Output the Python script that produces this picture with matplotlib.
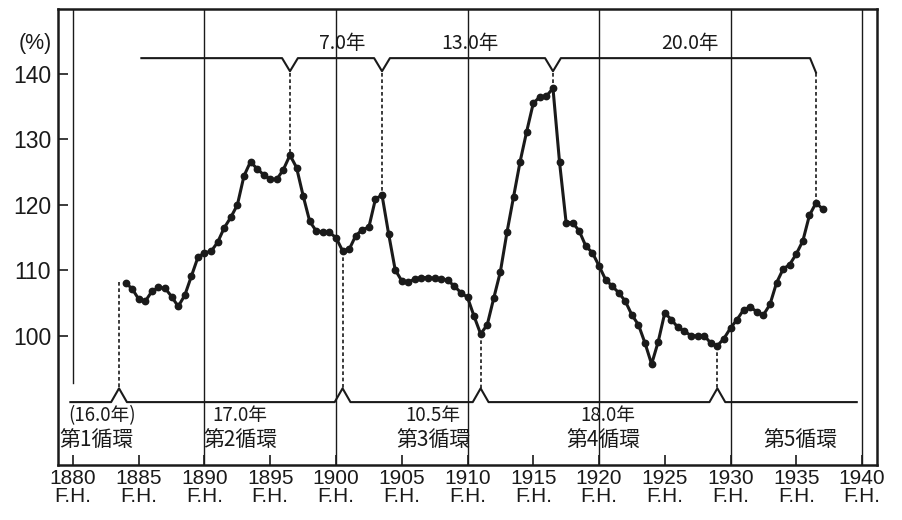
import matplotlib
matplotlib.use("Agg")
import matplotlib.pyplot as plt
import numpy as np
from matplotlib import font_manager as fm

# ---------------- data ----------------
years = [1884.0, 1884.5, 1885.0, 1885.5, 1886.0, 1886.5, 1887.0, 1887.5,
         1888.0, 1888.5, 1889.0, 1889.5, 1890.0, 1890.5, 1891.0, 1891.5,
         1892.0, 1892.5, 1893.0, 1893.5, 1894.0, 1894.5, 1895.0, 1895.5,
         1896.0, 1896.5, 1897.0, 1897.5, 1898.0, 1898.5, 1899.0, 1899.5,
         1900.0, 1900.5, 1901.0, 1901.5, 1902.0, 1902.5, 1903.0, 1903.5,
         1904.0, 1904.5, 1905.0, 1905.5, 1906.0, 1906.5, 1907.0, 1907.5,
         1908.0, 1908.5, 1909.0, 1909.5, 1910.0, 1910.5, 1911.0, 1911.5,
         1912.0, 1912.5, 1913.0, 1913.5, 1914.0, 1914.5, 1915.0, 1915.5,
         1916.0, 1916.5, 1917.0, 1917.5, 1918.0, 1918.5, 1919.0, 1919.5,
         1920.0, 1920.5, 1921.0, 1921.5, 1922.0, 1922.5, 1923.0, 1923.5,
         1924.0, 1924.5, 1925.0, 1925.5, 1926.0, 1926.5, 1927.0, 1927.5,
         1928.0, 1928.5, 1929.0, 1929.5, 1930.0, 1930.5, 1931.0, 1931.5,
         1932.0, 1932.5, 1933.0, 1933.5, 1934.0, 1934.5, 1935.0, 1935.5,
         1936.0, 1936.5, 1937.0]
values = [108.1, 107.2, 105.6, 105.3, 106.8, 107.4, 107.3, 106.0,
          104.5, 106.2, 109.1, 112.0, 112.7, 112.9, 114.3, 116.5,
          118.1, 120.0, 124.4, 126.6, 125.5, 124.6, 123.9, 123.9,
          125.4, 127.6, 125.7, 121.4, 117.5, 116.0, 115.9, 115.8,
          115.0, 113.0, 113.2, 115.3, 116.2, 116.6, 120.9, 121.5,
          115.6, 110.1, 108.4, 108.2, 108.7, 108.9, 108.9, 108.8,
          108.7, 108.5, 107.6, 106.6, 105.9, 103.0, 100.3, 101.7,
          105.8, 109.8, 115.8, 121.2, 126.6, 131.2, 135.5, 136.5,
          136.6, 137.8, 126.5, 117.3, 117.3, 116.0, 113.7, 112.7,
          110.7, 108.6, 107.6, 106.6, 105.3, 103.2, 101.7, 98.9,
          95.7, 99.1, 103.5, 102.5, 101.3, 100.7, 100.05, 100.0,
          100.05, 98.9, 98.5, 99.6, 101.2, 102.5, 104.0, 104.4,
          103.7, 103.2, 104.8, 108.1, 110.2, 110.9, 112.5, 114.5,
          118.4, 120.3, 119.4]

x_ticks = [1880, 1885, 1890, 1895, 1900, 1905, 1910, 1915, 1920, 1925, 1930, 1935, 1940]
x_tick_labels = [f"{y}\nF.H." for y in x_ticks]
y_ticks = [100, 110, 120, 130, 140]
y_tick_labels = ["100", "110", "120", "130", "140"]
grid_years = [1890, 1900, 1910, 1920, 1930, 1940]

peak_years = [1896.5, 1903.5, 1916.5, 1936.5]
trough_years = [1883.5, 1900.5, 1911.0, 1929.0]
first_trough_top = 108.2

peak_gap_labels = ["7.0年", "13.0年", "20.0年"]
peak_gap_label_x = [1900.5, 1910.2, 1926.9]
cycle_len_labels = ["(16.0年)", "17.0年", "10.5年", "18.0年"]
cycle_len_label_x = [1882.2, 1892.7, 1907.4, 1920.7]
cycle_names = ["第1循環", "第2循環", "第3循環", "第4循環", "第5循環"]
cycle_name_x = [1881.8, 1892.7, 1907.4, 1920.3, 1935.3]

# ---------------- fonts ----------------
names = {f.name for f in fm.fontManager.ttflist}
if "Liberation Sans Narrow" in names:
    num_family = ["Liberation Sans Narrow", "DejaVu Sans"]
    xt_size, yt_size = 17, 17
else:
    num_family = ["Liberation Sans", "DejaVu Sans"]
    xt_size, yt_size = 15, 16.5
jp_family = ["Noto Sans CJK JP", "DejaVu Sans"]

# ---------------- figure ----------------
W, H = 902, 520
fig = plt.figure(figsize=(W / 100, H / 100), dpi=100)
fig.patch.set_facecolor("white")
L, R, T, B = 58, 877, 9, 465
ax = fig.add_axes([L / W, 1 - B / H, (R - L) / W, (B - T) / H])
ax.set_xlim(1878.86, 1941.14)
ax.set_ylim(80.3, 149.9)

INK = "#1a1a1a"

# vertical grid lines
for gy in grid_years:
    ax.axvline(gy, color=INK, lw=1.0, zorder=1)
ax.plot([1880, 1880], [92.8, 149.9], color=INK, lw=1.0, zorder=1)

# main series
ax.plot(years, values, color=INK, lw=2.2, marker="o", ms=4.6,
        markerfacecolor=INK, markeredgecolor=INK, zorder=5)

# upper bracket (peak to peak)
top_y, v_y, hw = 142.4, 140.4, 0.6
bx = [1885.2]
by = [top_y]
for p in peak_years[:-1]:
    bx += [p - hw, p, p + hw]
    by += [top_y, v_y, top_y]
bx += [peak_years[-1] - 0.45, peak_years[-1]]
by += [top_y, v_y - 0.2]
ax.plot(bx, by, color=INK, lw=1.5, zorder=3)

# lower bracket (trough to trough)
low_y, a_y = 89.9, 92.0
lx = [1879.8]
ly = [low_y]
for t in trough_years:
    lx += [t - hw, t, t + hw]
    ly += [low_y, a_y, low_y]
lx += [1939.6]
ly += [low_y]
ax.plot(lx, ly, color=INK, lw=1.5, zorder=3)

# dashed connectors
dash = (0, (2.2, 1.6))
for p in peak_years:
    v = np.interp(p, years, values)
    ax.plot([p, p], [v_y - 0.2, v], color=INK, lw=1.2, ls=dash, zorder=2)
for t in trough_years:
    v = first_trough_top if t < years[0] else np.interp(t, years, values)
    ax.plot([t, t], [v, a_y], color=INK, lw=1.2, ls=dash, zorder=2)

# labels
for s, x in zip(peak_gap_labels, peak_gap_label_x):
    ax.text(x, 144.6, s, ha="center", va="center", fontsize=14,
            family=jp_family, color=INK)
for s, x in zip(cycle_len_labels, cycle_len_label_x):
    ax.text(x, 87.9, s, ha="center", va="center", fontsize=13.5,
            family=jp_family, color=INK)
for s, x in zip(cycle_names, cycle_name_x):
    ax.text(x, 84.1, s, ha="center", va="center", fontsize=15,
            family=jp_family, color=INK)

# (%) unit
fig.text(35 / W, 1 - 44 / H, "(%)", ha="center", va="center",
         fontsize=yt_size - 1, family=num_family, color=INK)

# ticks
ax.set_xticks(x_ticks)
ax.set_xticklabels(x_tick_labels, family=num_family, fontsize=xt_size,
                   linespacing=0.92, color=INK)
ax.set_yticks(y_ticks)
ax.set_yticklabels(y_tick_labels, family=num_family, fontsize=yt_size, color=INK)
ax.tick_params(axis="both", direction="in", length=7, width=1.2, color=INK)
ax.tick_params(axis="x", pad=3)
ax.tick_params(axis="y", pad=5)

for sp in ax.spines.values():
    sp.set_linewidth(1.8)
    sp.set_color(INK)

fig.savefig("out.png", dpi=100, facecolor="white")
